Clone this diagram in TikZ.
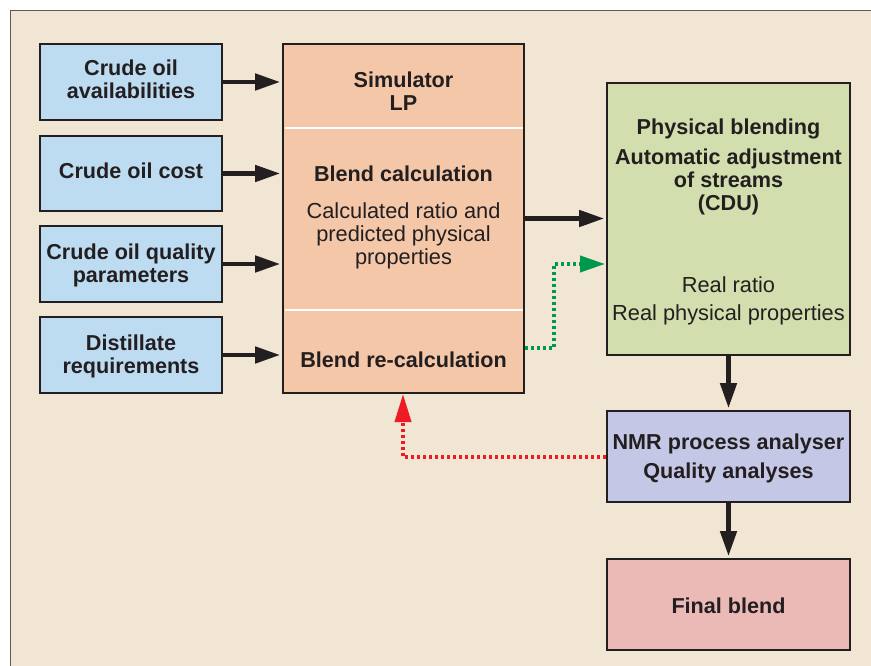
\documentclass[tikz,border=0pt]{standalone}
\usepackage{fontspec}
\setmainfont{Liberation Sans}
\usetikzlibrary{arrows.meta}
\definecolor{bgc}{HTML}{F0E6D3}
\definecolor{bluec}{HTML}{BDDBF1}
\definecolor{orangec}{HTML}{F4C7A8}
\definecolor{greenc}{HTML}{D2DEAD}
\definecolor{purplec}{HTML}{C4C7E5}
\definecolor{pinkc}{HTML}{EBB9B6}
\definecolor{inkc}{HTML}{231F20}
\definecolor{dgreen}{HTML}{00994A}
\definecolor{dred}{HTML}{ED1C24}
\tikzset{
  boxst/.style={draw=inkc, line width=1.6pt, inner sep=0pt, anchor=center},
  txt/.style={text=inkc, align=center, inner sep=0pt, font=\fontsize{21.6}{23}\selectfont\bfseries},
  txtr/.style={text=inkc, align=center, inner sep=0pt, font=\fontsize{21.8}{23}\selectfont},
  arr/.style={draw=inkc, line width=4.5pt, -{Triangle[length=25pt,width=16pt]}, shorten >=2pt},
  dotg/.style={draw=dgreen, line width=4pt, dash pattern=on 3pt off 3pt, -{Triangle[length=25pt,width=16pt]}},
  dotr/.style={draw=dred, line width=4pt, dash pattern=on 3pt off 3pt, -{Triangle[length=28pt,width=16pt]}},
}
\begin{document}
\begin{tikzpicture}[x=1pt,y=-1pt]
\useasboundingbox (0,0) rectangle (871,666);
\fill[bgc] (10,11) rectangle (872,667);
\draw[gray!70!black, line width=1pt] (10,667) -- (10,11) -- (872,11);

% left blue boxes
\node[boxst, fill=bluec, minimum width=182pt, minimum height=76pt] (b1) at (131,82) {};
\node[boxst, fill=bluec, minimum width=182pt, minimum height=75pt] (b2) at (131,173.5) {};
\node[boxst, fill=bluec, minimum width=182pt, minimum height=76pt] (b3) at (131,264) {};
\node[boxst, fill=bluec, minimum width=182pt, minimum height=76pt] (b4) at (131,355) {};
\node[txt] (t1) at (131,79.5) {Crude oil\\availabilities};
\node[txt] (t2) at (131,171) {Crude oil cost};
\node[txt] (t3) at (131,265) {Crude oil quality\\parameters};
\node[txt] (t4) at (131,356) {Distillate\\requirements};

% orange simulator box
\node[boxst, fill=orangec, minimum width=241pt, minimum height=349pt] (sim) at (403.5,218.5) {};
\draw[white, line width=2pt] (284.5,128) -- (522.5,128);
\draw[white, line width=2pt] (284.5,310) -- (522.5,310);
\node[txt] (s1) at (403.5,91) {Simulator\\LP};
\node[txt] (s2) at (403.5,174) {Blend calculation};
\node[txtr] (s3) at (403.5,236) {Calculated ratio and\\predicted physical\\properties};
\node[txt] (s4) at (403.5,359.5) {Blend re-calculation};

% green box
\node[boxst, fill=greenc, minimum width=243pt, minimum height=272pt] (phy) at (728.5,219) {};
\node[txt] (p1) at (728.5,129) {Physical blending};
\node[txt] (p2) at (728.5,182) {Automatic adjustment\\of streams\\(CDU)};
\node[txtr] (p3) at (728.5,300.5) {Real ratio\\[5pt]Real physical properties};

% purple box
\node[boxst, fill=purplec, minimum width=243pt, minimum height=91pt] (nmr) at (728.5,456.5) {};
\node[txt] (n1) at (728.5,458) {NMR process analyser\\[6pt]Quality analyses};

% pink box
\node[boxst, fill=pinkc, minimum width=243pt, minimum height=91pt] (fin) at (728.5,604.5) {};
\node[txt] (f1) at (728.5,606) {Final blend};

% arrows
\draw[arr] (b1.east) -- (b1.east -| sim.west);
\draw[arr] (b2.east) -- (b2.east -| sim.west);
\draw[arr] (b3.east) -- (b3.east -| sim.west);
\draw[arr] (b4.east) -- (b4.east -| sim.west);
\draw[arr] (sim.east) -- (sim.east -| phy.west);
\draw[arr] (phy.south) -- (nmr.north);
\draw[arr] (nmr.south) -- (fin.north);

% dotted feedback
\coordinate (g0) at (525,348);
\coordinate (g1) at (554,348);
\coordinate (g2) at (554,264);
\coordinate (g3) at (605,264);
\draw[dotg] (g0) -- (g1) -- (g2) -- (g3);
\coordinate (r1) at (403,457);
\coordinate (r2) at (403,394);
\draw[dotr] (nmr.west |- r1) -- (r1) -- (r2);
\end{tikzpicture}
\end{document}
